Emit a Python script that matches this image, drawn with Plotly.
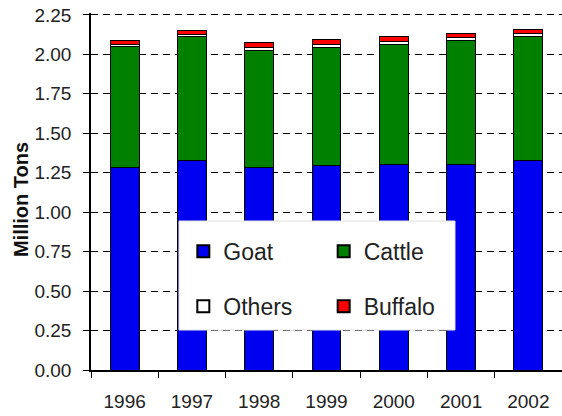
import plotly.graph_objects as go

years = ["1996", "1997", "1998", "1999", "2000", "2001", "2002"]
goat = [1.28, 1.33, 1.28, 1.295, 1.305, 1.305, 1.33]
cattle = [0.77, 0.78, 0.745, 0.75, 0.755, 0.78, 0.78]
others = [0.015, 0.015, 0.02, 0.02, 0.02, 0.02, 0.02]
buffalo = [0.025, 0.025, 0.03, 0.03, 0.03, 0.03, 0.03]
y_ticks = [0, 0.25, 0.5, 0.75, 1.0, 1.25, 1.5, 1.75, 2.0, 2.25]

FONT = "Liberation Sans, Arial, sans-serif"
line = dict(color="black", width=1)

fig = go.Figure()
fig.add_bar(x=years, y=goat, name="Goat", marker=dict(color="#0000F0", line=line),
            legend="legend", legendgroup="g")
fig.add_bar(x=years, y=cattle, name="Cattle", marker=dict(color="#008000", line=line),
            legend="legend2", legendgroup="c")
fig.add_bar(x=years, y=others, name="Others", marker=dict(color="#FFFFFF", line=line),
            legend="legend", legendgroup="o")
fig.add_bar(x=years, y=buffalo, name="Buffalo", marker=dict(color="#FF0000", line=line),
            legend="legend2", legendgroup="b")

legend_common = dict(
    bgcolor="rgba(0,0,0,0)", borderwidth=0,
    font=dict(family=FONT, size=23, color="#222"),
    xanchor="left", yanchor="top", tracegroupgap=22, traceorder="grouped",
    itemsizing="constant",
)

fig.update_layout(
    width=562, height=416,
    margin=dict(l=91, r=0, t=13, b=46, autoexpand=False),
    paper_bgcolor="white", plot_bgcolor="white",
    barmode="stack", bargap=0.57,
    font=dict(family=FONT, size=19, color="#222"),
    legend=dict(x=0.196, y=0.3924, **legend_common),
    legend2=dict(x=0.494, y=0.3924, **legend_common),
    xaxis=dict(
        type="category", range=[-0.5, 6.5], automargin=False,
        showline=True, linecolor="black", linewidth=1.5,
        ticks="outside", ticklen=6, tickcolor="black", tickson="boundaries",
        ticklabelstandoff=13,
        showgrid=False, zeroline=False,
        tickfont=dict(family=FONT, size=19, color="#222"),
    ),
    yaxis=dict(
        range=[0, 2.262], tickvals=y_ticks, tickformat=".2f", automargin=False,
        ticklabeloverflow="allow",
        showline=True, linecolor="black", linewidth=1.5,
        ticks="outside", ticklen=6, tickcolor="black",
        ticklabelstandoff=8,
        showgrid=True, gridcolor="black", gridwidth=1.2, griddash="7px,5px",
        zeroline=False,
        tickfont=dict(family=FONT, size=19, color="#222"),
    ),
    shapes=[dict(type="rect", xref="paper", yref="paper",
                 x0=0.1868, x1=0.7728, y0=0.1120, y1=0.4174,
                 fillcolor="white", line=dict(color="#e0e0e0", width=1), layer="above")],
    annotations=[dict(text="<b>Million Tons</b>", textangle=-90, xref="paper", yref="paper",
                      x=-0.1486, y=0.476, xanchor="center", yanchor="middle", showarrow=False,
                      font=dict(family=FONT, size=20, color="#111"))],
)

# remove the browser's default 8px body margin so the figure sits at the page origin
fig.write_html("out.html", config={"displayModeBar": False},
               post_script="document.body.style.margin='0';document.body.style.overflow='hidden';")
